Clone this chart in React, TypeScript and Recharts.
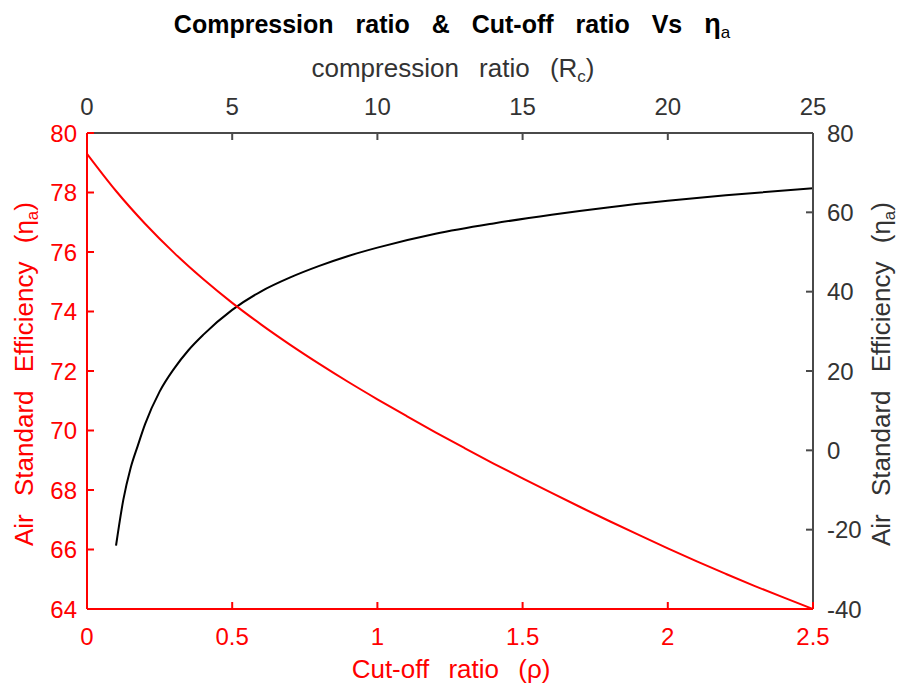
import { LineChart, Line, XAxis, YAxis } from "recharts";

// cut-off ratio (bottom axis) vs efficiency (left axis)
const cutoffRatio = [
  0, 0.1, 0.2, 0.3, 0.4, 0.5, 0.6, 0.7, 0.8, 0.9, 1.0, 1.1, 1.2, 1.3, 1.4,
  1.5, 1.6, 1.7, 1.8, 1.9, 2.0, 2.1, 2.2, 2.3, 2.4, 2.5,
];
const etaCutoff = [
  79.3, 78.05, 76.95, 75.97, 75.09, 74.29, 73.56, 72.88, 72.24, 71.63, 71.05,
  70.49, 69.94, 69.41, 68.89, 68.39, 67.9, 67.42, 66.95, 66.49, 66.04, 65.6,
  65.18, 64.77, 64.38, 64.0,
];

// compression ratio (top axis) vs efficiency (right axis)
const compressionRatio = [
  1, 1.25, 1.5, 1.75, 2, 2.5, 3, 3.5, 4, 5, 6, 7, 8, 9, 10, 12, 14, 16, 18,
  20, 22, 25,
];
const etaCompression = [
  -24.0, -12.5, -4.5, 1.2, 6.6, 14.8, 20.6, 25.3, 29.1, 35.4, 40.1, 43.6,
  46.5, 49.0, 51.1, 54.6, 57.2, 59.4, 61.3, 62.9, 64.3, 66.1,
];

const bottomTicks = [0, 0.5, 1, 1.5, 2, 2.5];
const topTicks = [0, 5, 10, 15, 20, 25];
const leftTicks = [64, 66, 68, 70, 72, 74, 76, 78, 80];
const rightTicks = [-40, -20, 0, 20, 40, 60, 80];

const cutoffData = cutoffRatio.map((x, i) => ({ x, eta: etaCutoff[i] }));
const compressionData = compressionRatio.map((x, i) => ({
  x,
  eta: etaCompression[i],
}));

const RED = "#ff0000";
const DARK = "#333333";
const AXIS_DARK = "#4a4a4a";
const FONT = "'Liberation Sans', Arial, sans-serif";

export default function App() {
  const redTick = { fill: RED, fontSize: 24, fontFamily: FONT };
  const darkTick = { fill: DARK, fontSize: 24, fontFamily: FONT };

  return (
    <div
      style={{
        position: "absolute",
        left: 0,
        top: 0,
        width: 901,
        height: 683,
        background: "#fff",
        fontFamily: FONT,
      }}
    >
      <LineChart
        width={901}
        height={683}
        margin={{ top: 103, right: 28, bottom: 44, left: 27 }}
      >
        <XAxis
          xAxisId="top"
          orientation="top"
          type="number"
          dataKey="x"
          domain={[0, 25]}
          ticks={topTicks}
          allowDataOverflow
          height={30}
          stroke={AXIS_DARK}
          axisLine={{ stroke: AXIS_DARK, strokeWidth: 2 }}
          tickLine={{ stroke: AXIS_DARK, strokeWidth: 2 }}
          tickSize={-7}
          tickMargin={25}
          tick={darkTick}
          interval={0}
        />
        <YAxis
          yAxisId="right"
          orientation="right"
          type="number"
          domain={[-40, 80]}
          ticks={rightTicks}
          allowDataOverflow
          width={60}
          stroke={AXIS_DARK}
          axisLine={{ stroke: AXIS_DARK, strokeWidth: 2 }}
          tickLine={{ stroke: AXIS_DARK, strokeWidth: 2 }}
          tickSize={-7}
          tickMargin={21}
          tick={{ ...darkTick, textAnchor: "start" }}
          interval={0}
        />
        <XAxis
          xAxisId="bottom"
          orientation="bottom"
          type="number"
          dataKey="x"
          domain={[0, 2.5]}
          ticks={bottomTicks}
          allowDataOverflow
          height={30}
          stroke={RED}
          axisLine={{ stroke: RED, strokeWidth: 2 }}
          tickLine={{ stroke: RED, strokeWidth: 2 }}
          tickSize={-7}
          tickMargin={26}
          tick={redTick}
          interval={0}
        />
        <YAxis
          yAxisId="left"
          orientation="left"
          type="number"
          domain={[64, 80]}
          ticks={leftTicks}
          allowDataOverflow
          width={60}
          stroke={RED}
          axisLine={{ stroke: RED, strokeWidth: 2 }}
          tickLine={{ stroke: RED, strokeWidth: 2 }}
          tickSize={-7}
          tickMargin={17}
          tick={redTick}
          interval={0}
        />
        <Line
          data={compressionData}
          xAxisId="top"
          yAxisId="right"
          dataKey="eta"
          type="monotone"
          stroke="#000000"
          strokeWidth={2}
          dot={false}
          isAnimationActive={false}
        />
        <Line
          data={cutoffData}
          xAxisId="bottom"
          yAxisId="left"
          dataKey="eta"
          type="monotone"
          stroke={RED}
          strokeWidth={2}
          dot={false}
          isAnimationActive={false}
        />
      </LineChart>

      <svg
        width={901}
        height={683}
        style={{ position: "absolute", left: 0, top: 0, pointerEvents: "none" }}
      >
        <text
          x={452}
          y={33}
          textAnchor="middle"
          fontSize={25}
          fontWeight="bold"
          fill="#000"
          style={{ wordSpacing: 15 }}
        >
          Compression ratio &amp; Cut-off ratio Vs{" "}
          <tspan fontSize={27}>η</tspan>
          <tspan fontWeight="normal" fontSize={17} dy={5}>a</tspan>
        </text>
        <text
          x={453}
          y={77}
          textAnchor="middle"
          fontSize={26}
          fill={DARK}
          style={{ wordSpacing: 13 }}
        >
          compression ratio (R
          <tspan fontSize={17} dy={5}>c</tspan>
          <tspan dy={-5}>)</tspan>
        </text>
        <text
          x={451}
          y={678}
          textAnchor="middle"
          fontSize={26}
          fill={RED}
          style={{ wordSpacing: 12 }}
        >
          Cut-off ratio (ρ)
        </text>
        <text
          transform="translate(33 374) rotate(-90)"
          textAnchor="middle"
          fontSize={26}
          fill={RED}
          style={{ wordSpacing: 11 }}
        >
          Air Standard Efficiency (η
          <tspan fontSize={17} dy={5}>a</tspan>
          <tspan dy={-5}>)</tspan>
        </text>
        <text
          transform="translate(890 374) rotate(-90)"
          textAnchor="middle"
          fontSize={26}
          fill={DARK}
          style={{ wordSpacing: 11 }}
        >
          Air Standard Efficiency (η
          <tspan fontSize={17} dy={5}>a</tspan>
          <tspan dy={-5}>)</tspan>
        </text>
      </svg>
    </div>
  );
}
